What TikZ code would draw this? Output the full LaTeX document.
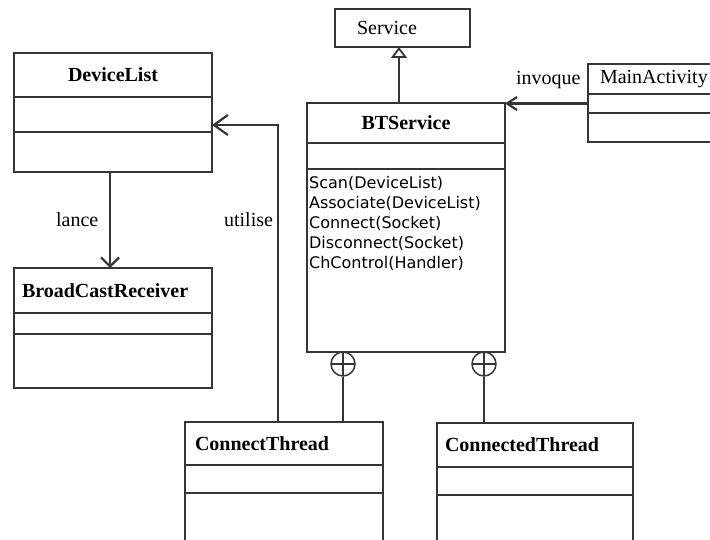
\documentclass[tikz,border=0pt]{standalone}
\usepackage{fontspec}
\setmainfont{Liberation Serif}
\newfontfamily\opfont{DejaVu Sans}
\usetikzlibrary{positioning,arrows.meta,shapes}
\definecolor{linegray}{HTML}{353535}
\newcommand{\umlsize}{\fontsize{20}{24}\selectfont}

\begin{document}
\begin{tikzpicture}[x=1pt,y=-1pt,line width=2.2pt,
    classbox/.style={draw=linegray, rectangle, outer sep=0pt, inner sep=0pt,
                     minimum width=198pt},
    classname/.style={classbox, font=\umlsize\bfseries},
    lbl/.style={font=\umlsize, inner sep=0pt},
    nested/.style={circle, draw=linegray, line width=1.5pt, minimum size=24pt,
                   inner sep=0pt, path picture={
                     \draw[linegray, line width=1.5pt]
                       (path picture bounding box.north) -- (path picture bounding box.south)
                       (path picture bounding box.west) -- (path picture bounding box.east);}}]
  \clip (0,0) rectangle (710,540);

  \node[classbox, anchor=north west, minimum width=135pt, minimum height=38pt,
        inner xsep=22pt, text width=91pt, align=left, font=\umlsize] (srv) at (335,9) {Service};

  \node[classname, anchor=north west, minimum height=44pt] (dl) at (14,53) {DeviceList};
  \node[classbox, minimum height=35pt, below=0pt of dl] (dlatt) {};
  \node[classbox, minimum height=40pt, below=0pt of dlatt] (dlop) {};

  \node[classname, anchor=north west, minimum height=45pt,
        inner xsep=8pt, text width=182pt, align=left] (bcr) at (14,268) {BroadCastReceiver};
  \node[classbox, minimum height=21pt, below=0pt of bcr] (bcratt) {};
  \node[classbox, minimum height=54pt, below=0pt of bcratt] (bcrop) {};

  \node[classname, anchor=north west, minimum height=40pt] (bts) at (307,103) {BTService};
  \node[classbox, minimum height=26pt, below=0pt of bts] (btsatt) {};
  \node[classbox, minimum height=183pt, below=0pt of btsatt] (btsop) {};
  \node[anchor=north west, inner sep=0pt, align=left,
        font=\opfont\fontsize{16}{20}\selectfont] (btsmeth) at (308,175)
        {Scan(DeviceList)\\Associate(DeviceList)\\Connect(Socket)\\Disconnect(Socket)\\ChControl(Handler)};

  \node[classbox, anchor=north west, minimum width=140pt, minimum height=30pt,
        inner xsep=12pt, text width=116pt, align=left, font=\umlsize] (ma) at (588,64) {MainActivity};
  \node[classbox, minimum width=140pt, minimum height=19pt, below=0pt of ma] (maatt) {};
  \node[classbox, minimum width=140pt, minimum height=29pt, below=0pt of maatt] (maop) {};

  \node[classname, anchor=north west, minimum height=43pt,
        inner xsep=10pt, text width=178pt, align=left] (ct) at (185,422) {ConnectThread};
  \node[classbox, minimum height=28pt, below=0pt of ct] (ctatt) {};
  \node[classbox, minimum height=70pt, below=0pt of ctatt] (ctop) {};

  \node[classname, anchor=north west, minimum width=196pt, minimum height=44pt,
        inner xsep=8pt, text width=180pt, align=left] (cdt) at (437,423) {ConnectedThread};
  \node[classbox, minimum width=196pt, minimum height=28pt, below=0pt of cdt] (cdtatt) {};
  \node[classbox, minimum width=196pt, minimum height=70pt, below=0pt of cdtatt] (cdtop) {};

  \node[nested] (cmp1) at (343,364) {};
  \node[nested] (cmp2) at (484,364) {};

  \node[lbl, anchor=base west] (invq) at (515,85) {invoque};
  \node[lbl, anchor=base west] (lnc) at (55,227) {lance};
  \node[lbl, anchor=base west] (utl) at (223,227) {utilise};

  \draw[linegray, -{Triangle[open, length=11pt, width=16pt, line width=1.8pt]}]
    ([xshift=-7pt]bts.north) -- ([xshift=-7pt]bts.north |- srv.south);
  \draw[linegray, -{Straight Barb[length=10pt, width=13pt]}]
    (maatt.west) -- (maatt.west -| bts.east);
  \draw[linegray, -{Straight Barb[length=14pt, width=20pt]}]
    ([xshift=-6pt]ct.north) |- ([yshift=-10.5pt]dlatt.east);
  \draw[linegray, -{Straight Barb[length=9pt, width=18pt]}]
    ([xshift=-3pt]dlop.south) -- ([xshift=-3pt]bcr.north);
  \draw[linegray] (cmp1.south) -- (cmp1.south |- ct.north);
  \draw[linegray] (cmp2.south) -- (cmp2.south |- cdt.north);

\end{tikzpicture}
\end{document}
